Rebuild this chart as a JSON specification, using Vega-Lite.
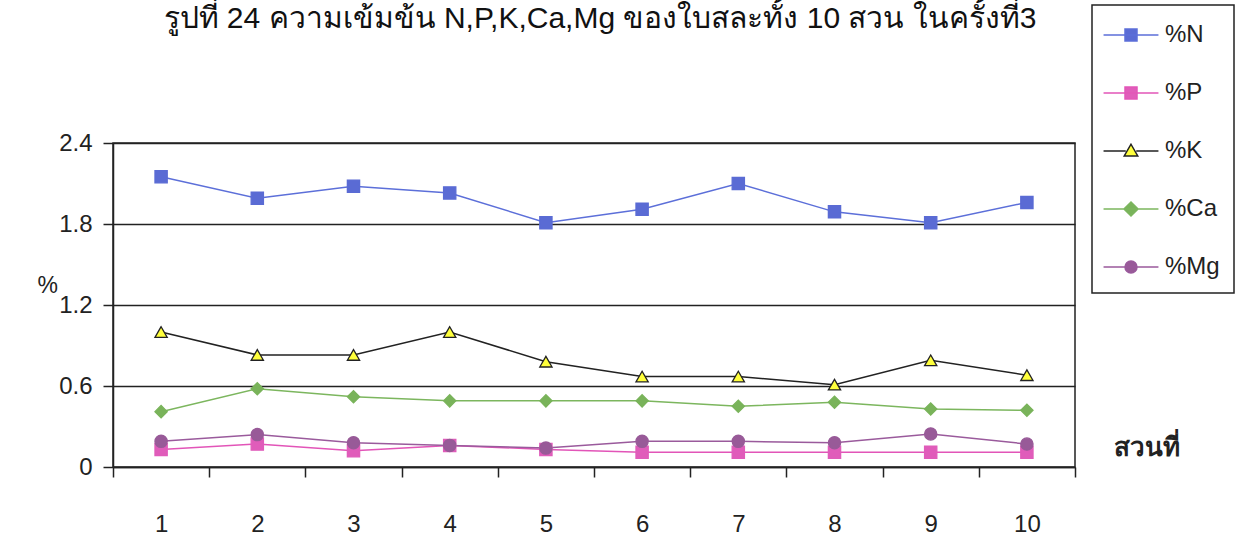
{
  "$schema": "https://vega.github.io/schema/vega-lite/v6.json",
  "width": 962,
  "height": 324,
  "autosize": {"type": "none"},
  "padding": {"left": 113, "top": 143, "right": 162, "bottom": 75},
  "background": "white",
  "title": {
    "text": "รูปที่ 24 ความเข้มข้น N,P,K,Ca,Mg ของใบสละทั้ง 10 สวน ในครั้งที่3",
    "fontSize": 30,
    "fontWeight": "normal",
    "color": "#111",
    "anchor": "middle",
    "frame": "group",
    "dx": 6,
    "dy": 40,
    "offset": 10
  },
  "data": {
    "values": [
      {"site": 1, "series": "%N", "value": 2.15},
      {"site": 2, "series": "%N", "value": 1.99},
      {"site": 3, "series": "%N", "value": 2.08},
      {"site": 4, "series": "%N", "value": 2.03},
      {"site": 5, "series": "%N", "value": 1.81},
      {"site": 6, "series": "%N", "value": 1.91},
      {"site": 7, "series": "%N", "value": 2.10},
      {"site": 8, "series": "%N", "value": 1.89},
      {"site": 9, "series": "%N", "value": 1.81},
      {"site": 10, "series": "%N", "value": 1.96},
      {"site": 1, "series": "%P", "value": 0.13},
      {"site": 2, "series": "%P", "value": 0.17},
      {"site": 3, "series": "%P", "value": 0.12},
      {"site": 4, "series": "%P", "value": 0.16},
      {"site": 5, "series": "%P", "value": 0.13},
      {"site": 6, "series": "%P", "value": 0.11},
      {"site": 7, "series": "%P", "value": 0.11},
      {"site": 8, "series": "%P", "value": 0.11},
      {"site": 9, "series": "%P", "value": 0.11},
      {"site": 10, "series": "%P", "value": 0.11},
      {"site": 1, "series": "%K", "value": 1.0},
      {"site": 2, "series": "%K", "value": 0.83},
      {"site": 3, "series": "%K", "value": 0.83},
      {"site": 4, "series": "%K", "value": 1.0},
      {"site": 5, "series": "%K", "value": 0.78},
      {"site": 6, "series": "%K", "value": 0.67},
      {"site": 7, "series": "%K", "value": 0.67},
      {"site": 8, "series": "%K", "value": 0.61},
      {"site": 9, "series": "%K", "value": 0.79},
      {"site": 10, "series": "%K", "value": 0.68},
      {"site": 1, "series": "%Ca", "value": 0.41},
      {"site": 2, "series": "%Ca", "value": 0.58},
      {"site": 3, "series": "%Ca", "value": 0.52},
      {"site": 4, "series": "%Ca", "value": 0.49},
      {"site": 5, "series": "%Ca", "value": 0.49},
      {"site": 6, "series": "%Ca", "value": 0.49},
      {"site": 7, "series": "%Ca", "value": 0.45},
      {"site": 8, "series": "%Ca", "value": 0.48},
      {"site": 9, "series": "%Ca", "value": 0.43},
      {"site": 10, "series": "%Ca", "value": 0.42},
      {"site": 1, "series": "%Mg", "value": 0.19},
      {"site": 2, "series": "%Mg", "value": 0.24},
      {"site": 3, "series": "%Mg", "value": 0.18},
      {"site": 4, "series": "%Mg", "value": 0.16},
      {"site": 5, "series": "%Mg", "value": 0.14},
      {"site": 6, "series": "%Mg", "value": 0.19},
      {"site": 7, "series": "%Mg", "value": 0.19},
      {"site": 8, "series": "%Mg", "value": 0.18},
      {"site": 9, "series": "%Mg", "value": 0.245},
      {"site": 10, "series": "%Mg", "value": 0.17}
    ]
  },
  "encoding": {
    "x": {
      "field": "site",
      "type": "ordinal",
      "bandPosition": 0.5,
      "scale": {"type": "band", "paddingInner": 0, "paddingOuter": 0},
      "axis": {
        "title": "สวนที่",
        "titleX": 1000,
        "titleY": -20,
        "titleAlign": "left",
        "titleBaseline": "middle",
        "titleAngle": 0,
        "titleFontSize": 26,
        "titleFontWeight": "bold",
        "titleColor": "#222",
        "labelAngle": 0,
        "labelFontSize": 24,
        "labelColor": "#222",
        "labelPadding": 35,
        "tickSize": 10,
        "tickBand": "extent",
        "tickColor": "#222",
        "tickWidth": 1.5,
        "domainColor": "#222",
        "domainWidth": 1.5,
        "grid": false
      }
    },
    "y": {
      "field": "value",
      "type": "quantitative",
      "scale": {"domain": [0, 2.4], "nice": false, "zero": true},
      "axis": {
        "title": "%",
        "titleAngle": 0,
        "titleX": -76,
        "titleY": 142,
        "titleAlign": "left",
        "titleBaseline": "middle",
        "titleFontSize": 23,
        "titleFontWeight": "normal",
        "titleColor": "#222",
        "values": [0, 0.6, 1.2, 1.8, 2.4],
        "format": "~g",
        "labelFontSize": 24,
        "labelColor": "#222",
        "labelPadding": 11,
        "labelFlush": false,
        "labelOverlap": false,
        "tickSize": 10,
        "tickColor": "#222",
        "tickWidth": 1.5,
        "domainColor": "#222",
        "domainWidth": 1.5,
        "grid": true,
        "gridColor": "#222",
        "gridWidth": 1.5,
        "gridOpacity": 1
      }
    }
  },
  "layer": [
    {
      "mark": {"type": "line", "strokeWidth": 1.5},
      "encoding": {
        "stroke": {
          "field": "series",
          "type": "nominal",
          "scale": {
            "domain": ["%N", "%P", "%K", "%Ca", "%Mg"],
            "range": ["#5c6fd9", "#e255b8", "#222222", "#7cb65e", "#9a5a9c"]
          },
          "legend": null
        },
        "detail": {"field": "series", "type": "nominal"}
      }
    },
    {
      "mark": {"type": "point", "filled": true, "opacity": 1, "size": 150, "strokeWidth": 1.3},
      "encoding": {
        "fill": {
          "field": "series",
          "type": "nominal",
          "scale": {
            "domain": ["%N", "%P", "%K", "%Ca", "%Mg"],
            "range": ["#5a6bd4", "#e05cba", "#ffff3c", "#79b35a", "#985a98"]
          },
          "legend": null
        },
        "stroke": {
          "field": "series",
          "type": "nominal",
          "scale": {
            "domain": ["%N", "%P", "%K", "%Ca", "%Mg"],
            "range": ["#5a6bd4", "#e05cba", "#222222", "#79b35a", "#985a98"]
          },
          "legend": null
        },
        "shape": {
          "field": "series",
          "type": "nominal",
          "scale": {
            "domain": ["%N", "%P", "%K", "%Ca", "%Mg"],
            "range": ["square", "square", "triangle-up", "diamond", "circle"]
          },
          "legend": null
        }
      }
    },
    {
      "data": {"values": []},
      "mark": {"type": "point", "filled": true, "opacity": 1, "size": 900, "strokeWidth": 1.5},
      "encoding": {
        "fill": {
          "field": "series",
          "type": "nominal",
          "scale": {
            "domain": ["%N", "%P", "%K", "%Ca", "%Mg"],
            "range": ["#5a6bd4", "#e05cba", "#ffff3c", "#79b35a", "#985a98"]
          },
          "legend": {"orient": "none", "legendX": 979, "legendY": -138, "title": null}
        },
        "stroke": {
          "field": "series",
          "type": "nominal",
          "scale": {
            "domain": ["%N", "%P", "%K", "%Ca", "%Mg"],
            "range": ["#5c6fd9", "#e255b8", "#222222", "#7cb65e", "#9a5a9c"]
          },
          "legend": {"orient": "none", "legendX": 979, "legendY": -138, "title": null}
        },
        "shape": {
          "field": "series",
          "type": "nominal",
          "scale": {
            "domain": ["%N", "%P", "%K", "%Ca", "%Mg"],
            "range": [
              "M-1.83,0H1.83M-0.4,-0.4H0.4V0.4H-0.4Z",
              "M-1.83,0H1.83M-0.4,-0.4H0.4V0.4H-0.4Z",
              "M-1.83,0H-0.35M0.35,0H1.83M0,-0.45L0.45,0.33H-0.45Z",
              "M-1.83,0H1.83M0,-0.47L0.47,0L0,0.47L-0.47,0Z",
              "M-1.83,0H1.83M-0.4,0A0.4,0.4,0,1,0,0.4,0A0.4,0.4,0,1,0,-0.4,0Z"
            ]
          },
          "legend": {"orient": "none", "legendX": 979, "legendY": -138, "title": null}
        }
      }
    }
  ],
  "resolve": {"scale": {"fill": "independent", "stroke": "independent", "shape": "independent"}},
  "config": {
    "view": {"stroke": "#222", "strokeWidth": 1.5},
    "font": "Liberation Sans",
    "legend": {
      "padding": 14,
      "strokeColor": "#222",
      "strokeWidth": 1.5,
      "symbolSize": 900,
      "symbolOffset": 9,
      "symbolStrokeWidth": 1.5,
      "labelOffset": 18,
      "rowPadding": 30,
      "labelFontSize": 24,
      "labelColor": "#222",
      "labelFont": "Liberation Sans"
    }
  }
}
